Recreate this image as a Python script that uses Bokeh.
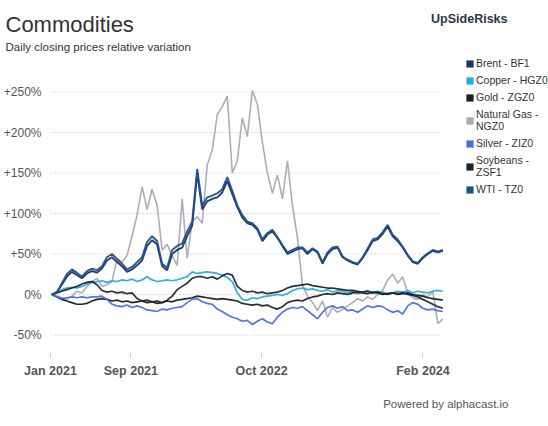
import pandas as pd
from bokeh.plotting import figure
from bokeh.models import (Range1d, FixedTicker, CustomJSTickFormatter, Legend, LegendItem, Title)
from bokeh.embed import file_html
from bokeh.resources import INLINE

# ---------------- data (relative variation, %) ----------------
dates = pd.date_range("2021-01-05", "2024-04-01", periods=79)

brent = [0, 3, 12, 22, 28, 24, 20, 26, 29, 27, 32, 42, 46, 40, 35, 28, 31, 36, 42, 60,
         67, 62, 35, 30, 50, 55, 58, 72, 85, 150, 105, 115, 118, 120, 126, 140, 124, 108, 95, 88,
         86, 80, 66, 74, 78, 70, 60, 50, 53, 56, 57, 50, 56, 52, 38, 50, 56, 58, 46, 42,
         39, 37, 45, 55, 66, 68, 75, 84, 72, 66, 58, 48, 40, 38, 45, 50, 54, 52, 54]
wti = [0, 2, 14, 25, 31, 27, 22, 29, 32, 30, 35, 46, 50, 44, 38, 31, 34, 40, 46, 65,
       72, 66, 38, 33, 55, 60, 63, 78, 90, 155, 110, 120, 122, 125, 130, 145, 128, 110, 98, 90,
       88, 82, 68, 76, 80, 71, 61, 52, 55, 58, 58, 52, 57, 53, 40, 52, 58, 59, 47, 43,
       40, 38, 46, 57, 68, 70, 77, 86, 74, 68, 59, 49, 41, 39, 46, 51, 55, 53, 55]
copper = [0, 3, 6, 8, 9, 8, 10, 13, 15, 16, 17, 15, 17, 16, 18, 17, 19, 16, 18, 22,
          18, 16, 17, 18, 17, 18, 20, 22, 28, 26, 27, 28, 27, 26, 24, 21, 16, 2, -6, -7,
          -4, -5, -3, -2, -1, 0, -1, 1, 5, 7, 8, 6, 7, 5, 4, 6, 3, 5, 4, 2,
          4, 1, 3, 5, 2, 4, 3, 1, 2, 4, 3, 5, 2, 4, 3, 2, 4, 5, 4]
gold = [0, -3, -6, -8, -10, -12, -12, -11, -8, -6, -5, -6, -8, -7, -9, -8, -10, -9, -8, -10,
        -9, -11, -10, -8, -9, -7, -6, -5, -4, -2, -3, -4, -5, -6, -5, -6, -7, -8, -11, -12,
        -13, -12, -14, -13, -16, -18, -15, -10, -8, -7, -8, -5, -3, -2, 0, 1, 0, 2, 1, 0,
        2, 3, 2, 1, 3, 2, 0, 1, 2, 0, 1, 2, 0, -1, -2, -4, -5, -6, -7]
natgas = [0, -2, -4, -6, -2, 4, 2, 10, 16, 20, 10, 12, 16, 44, 40, 48, 72, 98, 133, 105,
          130, 110, 55, 62, 48, 36, 118, 45, 90, 96, 88, 160, 178, 222, 232, 245, 150, 165, 218, 195,
          252, 235, 188, 150, 125, 148, 118, 165, 110, 70, 12, -2, -10, -20, -8, -28, -16, -22, -18, -14,
          -10, -5, -8, -3, -6, 0, 5, 18, 25, 14, 22, 2, -4, -6, 0, -3, 4, -36, -30]
silver = [0, -3, -5, -4, -3, -4, -3, -4, -3, -3, -2, -6, -12, -14, -15, -13, -16, -14, -16, -19,
          -20, -21, -18, -19, -17, -16, -15, -10, -6, -5, -9, -11, -12, -18, -21, -25, -28, -30, -33, -32,
          -37, -33, -30, -34, -36, -28, -22, -18, -16, -17, -15, -20, -25, -30, -22, -16, -14, -17, -15, -20,
          -19, -22, -18, -14, -16, -14, -15, -19, -22, -20, -24, -14, -10, -12, -17, -19, -18, -20, -21]
soybeans = [0, 2, 4, 6, 8, 10, 13, 15, 16, 12, 5, 3, 4, 2, 3, 1, 2, -5, -8, -7,
            -9, -8, -10, -7, -2, 6, 10, 14, 20, 22, 22, 20, 22, 19, 23, 26, 24, 10, 5, 3,
            4, 2, 3, 1, 2, 3, 5, 8, 10, 11, 12, 13, 11, 10, 9, 8, 8, 7, 6, 5,
            5, 4, 3, 4, 2, 3, 1, 0, 2, 1, 2, 0, -1, -3, -6, -9, -12, -15, -17]

series_names = ["Brent - BF1", "Copper - HGZ0", "Gold - ZGZ0", "Natural Gas -\nNGZ0",
                "Silver - ZIZ0", "Soybeans -\nZSF1", "WTI - TZ0"]
series_colors = ["#1b365d", "#29aae1", "#1e1e1e", "#a9a9b1", "#4a6ee0", "#1c2633", "#1f4f8f"]
series_values = [brent, copper, gold, natgas, silver, soybeans, wti]

x_tick_dates = ["2021-01-01", "2021-09-01", "2022-10-01", "2024-02-01"]
x_tick_labels = ["Jan 2021", "Sep 2021", "Oct 2022", "Feb 2024"]
y_ticks = [-50, 0, 50, 100, 150, 200, 250]

FONT = "Liberation Sans"

# ---------------- main chart ----------------
# plotting frame spans to the right edge; the legend lives inside its right part
x_start = pd.Timestamp("2021-01-01")
x_end = x_start + pd.Timedelta(days=1505.4)
p = figure(width=548, height=426, output_backend="svg", toolbar_location=None,
           x_axis_type="datetime",
           x_range=Range1d(x_start, x_end), y_range=Range1d(-71.6, 295.1),
           min_border_left=50, min_border_right=0, min_border_top=55,
           min_border_bottom=74)
p.outline_line_color = None
p.background_fill_color = "white"
p.border_fill_color = "white"

p.xgrid.grid_line_color = None
p.ygrid.grid_line_color = None
# horizontal dashed gridlines spanning the data period only
p.segment(x0=[x_start] * len(y_ticks), x1=[dates[-1]] * len(y_ticks), y0=y_ticks, y1=y_ticks,
          line_color="#d6d6d6", line_dash="2 2", line_width=1)

ticks_ms = [pd.Timestamp(d).timestamp() * 1000 for d in x_tick_dates]
p.xaxis.ticker = FixedTicker(ticks=ticks_ms)
p.xaxis.formatter = CustomJSTickFormatter(args=dict(tvals=ticks_ms, tlabels=x_tick_labels), code="""
    let best = 0, bd = Infinity;
    for (let i = 0; i < tvals.length; i++) { const d = Math.abs(tvals[i] - tick); if (d < bd) { bd = d; best = i; } }
    return tlabels[best];
""")
p.xaxis.axis_line_color = None
p.xaxis.major_tick_line_color = "#cccccc"
p.xaxis.major_tick_out = 5
p.xaxis.major_tick_in = 0
p.xaxis.minor_tick_line_color = None
p.xaxis.major_label_text_font = FONT
p.xaxis.major_label_text_font_size = "12.5px"
p.xaxis.major_label_text_font_style = "bold"
p.xaxis.major_label_text_color = "#555555"
p.xaxis.major_label_standoff = 6

p.yaxis.ticker = FixedTicker(ticks=y_ticks)
p.yaxis.formatter = CustomJSTickFormatter(code="return (tick > 0 ? '+' : '') + tick + '%';")
p.yaxis.axis_line_color = None
p.yaxis.major_tick_line_color = None
p.yaxis.minor_tick_line_color = None
p.yaxis.major_label_text_font = FONT
p.yaxis.major_label_text_font_size = "12px"
p.yaxis.major_label_text_color = "#555555"
p.yaxis.major_label_standoff = 3

line_widths = [1.9, 1.7, 1.7, 1.6, 1.7, 1.7, 1.9]
draw_order = [3, 1, 2, 4, 5, 0, 6]
for i in draw_order:
    p.line(dates, series_values[i], line_color=series_colors[i], line_width=line_widths[i],
           line_alpha=0.95)

# legend swatches: zero-area quads at each series' first point (invisible on the chart)
items = []
for name, col, vals in zip(series_names, series_colors, series_values):
    q = p.quad(left=[dates[0]], right=[dates[0]], top=[vals[0]], bottom=[vals[0]],
               fill_color=col, line_color=None)
    items.append(LegendItem(label=name, renderers=[q]))

legend = Legend(items=items, location=(415, 157), orientation="vertical",
                glyph_width=9, glyph_height=9, label_height=12, spacing=5,
                label_standoff=2, padding=0, margin=0,
                label_text_font=FONT, label_text_font_size="10.5px", label_text_color="#333333",
                label_text_line_height=1.0,
                border_line_color=None, background_fill_alpha=0)
p.add_layout(legend, "center")

# titles (first added = closest to the plot frame)
p.add_layout(Title(text="Daily closing prices relative variation", align="left", offset=-45,
                   vertical_align="middle", standoff=3,
                   text_font=FONT, text_font_size="11.5px", text_font_style="normal",
                   text_color="#333333"), "above")
p.add_layout(Title(text="Commodities", align="left", offset=-45,
                   vertical_align="middle", standoff=1,
                   text_font=FONT, text_font_size="22px", text_font_style="normal",
                   text_color="#333333"), "above")
p.add_layout(Title(text="UpSideRisks", align="right", offset=41,
                   vertical_align="bottom", standoff=-30,
                   text_font=FONT, text_font_size="12.5px", text_font_style="bold",
                   text_color="#2d3748"), "above")
p.add_layout(Title(text="Powered by alphacast.io", align="right", offset=40,
                   vertical_align="bottom", standoff=30,
                   text_font=FONT, text_font_size="11.5px", text_font_style="normal",
                   text_color="#555555"), "below")

open("out.html", "w").write(file_html(p, INLINE))
